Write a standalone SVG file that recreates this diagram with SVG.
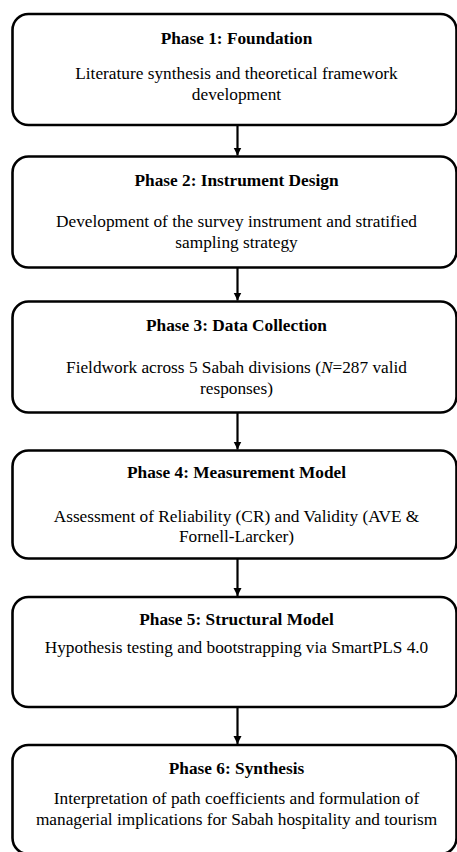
<svg xmlns="http://www.w3.org/2000/svg" width="457" height="852" viewBox="0 0 457 852">
<defs>
<marker id="ah" viewBox="0 0 10 10" refX="10" refY="5" markerWidth="8" markerHeight="9" markerUnits="userSpaceOnUse" orient="auto">
<path d="M0,0 L10,5 L0,10 z" fill="#000"/>
</marker>
</defs>
<style>
.box{fill:#fff;stroke:#000;stroke-width:2.6}
text{font-family:'Liberation Serif','Times New Roman',Times,serif;font-size:17.3px;text-anchor:middle;fill:#000}
.t{font-weight:bold}
.c{stroke:#000;stroke-width:2.2;fill:none;marker-end:url(#ah)}
</style>
<rect width="457" height="852" fill="#fff"/>
<g id="connectors">
<line class="c" x1="237.5" y1="125" x2="237.5" y2="155.5"/>
<line class="c" x1="237.5" y1="267.5" x2="237.5" y2="300.5"/>
<line class="c" x1="237.5" y1="412.5" x2="237.5" y2="449.5"/>
<line class="c" x1="237.5" y1="558.5" x2="237.5" y2="596"/>
<line class="c" x1="237.5" y1="707" x2="237.5" y2="744"/>
</g>
<g id="phase1">
<rect class="box" x="12.5" y="14" width="444" height="111" rx="16"/>
<text class="t" x="236.5" y="43.5">Phase 1: Foundation</text>
<text class="b" x="236.5" y="79">Literature synthesis and theoretical framework</text>
<text class="b" x="236.5" y="99.5">development</text>
</g>
<g id="phase2">
<rect class="box" x="12.5" y="156.5" width="444" height="111" rx="16"/>
<text class="t" x="236.5" y="186">Phase 2: Instrument Design</text>
<text class="b" x="236.5" y="227.3">Development of the survey instrument and stratified</text>
<text class="b" x="236.5" y="247.5">sampling strategy</text>
</g>
<g id="phase3">
<rect class="box" x="12.5" y="301.5" width="444" height="111" rx="16"/>
<text class="t" x="236.5" y="331">Phase 3: Data Collection</text>
<text class="b" x="236.5" y="372.7">Fieldwork across 5 Sabah divisions (<tspan font-style="italic">N</tspan>=287 valid</text>
<text class="b" x="236.5" y="393.5">responses)</text>
</g>
<g id="phase4">
<rect class="box" x="12.5" y="450.5" width="444" height="108" rx="16"/>
<text class="t" x="236.5" y="478.3">Phase 4: Measurement Model</text>
<text class="b" x="236.5" y="521.7">Assessment of Reliability (CR) and Validity (AVE &amp;</text>
<text class="b" x="236.5" y="542.3">Fornell-Larcker)</text>
</g>
<g id="phase5">
<rect class="box" x="12.5" y="597" width="444" height="110" rx="16"/>
<text class="t" x="236.5" y="625">Phase 5: Structural Model</text>
<text class="b" x="236.5" y="653.3">Hypothesis testing and bootstrapping via SmartPLS 4.0</text>
</g>
<g id="phase6">
<rect class="box" x="12.5" y="745" width="444" height="109" rx="16"/>
<text class="t" x="236.5" y="774">Phase 6: Synthesis</text>
<text class="b" x="236.5" y="804.3">Interpretation of path coefficients and formulation of</text>
<text class="b" x="236.5" y="825">managerial implications for Sabah hospitality and tourism</text>
</g>
</svg>
